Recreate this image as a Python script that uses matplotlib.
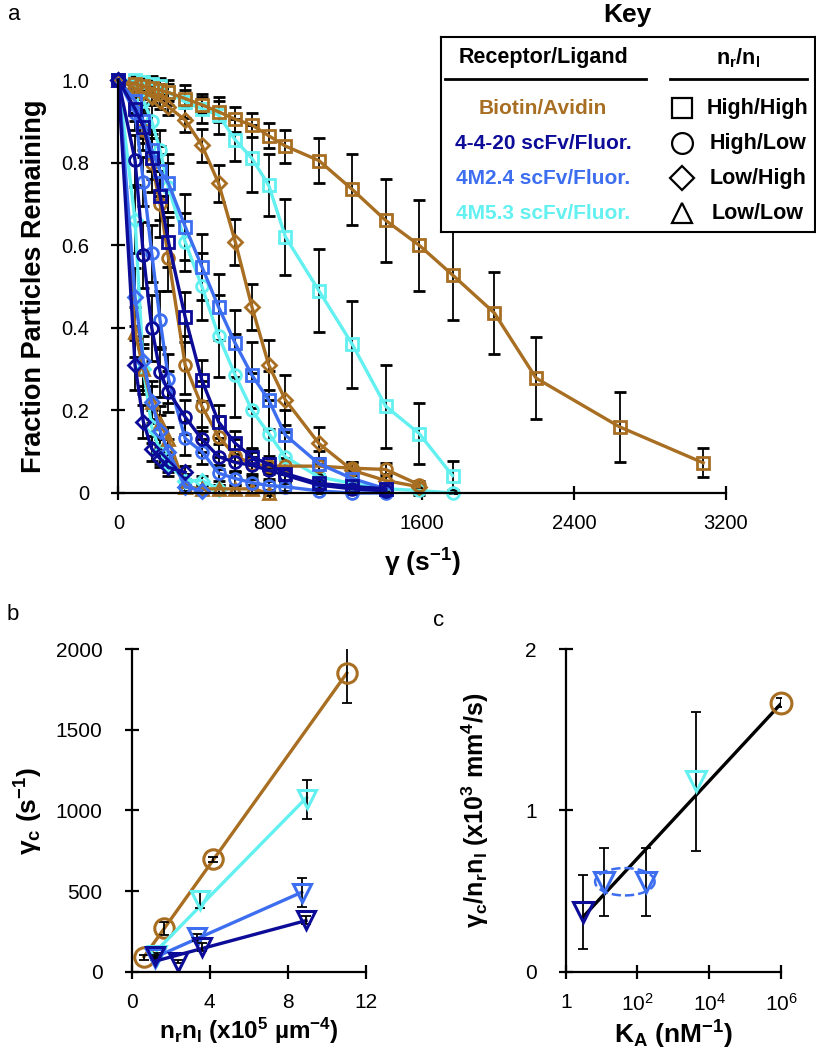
import numpy as np
import matplotlib
matplotlib.use("Agg")
import matplotlib.pyplot as plt

plt.rcParams['font.family'] = ['Liberation Sans', 'DejaVu Sans']
plt.rcParams['mathtext.default'] = 'regular'

BROWN = '#a86e22'
NAVY = '#0c0c98'
BLUE = '#3d6ef0'
CYAN = '#62f0f0'

# ---- panel a: shear rate steps (s^-1)
gam = [0, 88, 132, 176, 220, 264, 352, 440, 528, 616, 704, 792, 880,
       1056, 1232, 1408, 1584, 1760, 1980, 2200, 2640, 3080]

ba_hh = [1.0, 0.99, 0.985, 0.98, 0.975, 0.97, 0.955, 0.94, 0.923, 0.905, 0.891,
         0.865, 0.84, 0.805, 0.735, 0.66, 0.60, 0.528, 0.436, 0.278, 0.16, 0.073]
ba_hh_err = [0, 0.01, 0.01, 0.015, 0.015, 0.02, 0.02, 0.02, 0.025, 0.03, 0.03,
             0.03, 0.04, 0.055, 0.085, 0.10, 0.11, 0.11, 0.10, 0.10, 0.085, 0.035]
ba_hl = [1.0, 0.95, 0.88, 0.80, 0.70, 0.57, 0.31, 0.21, 0.136, 0.09, 0.07,
         0.065, 0.065, 0.065, 0.06, 0.057, 0.02]
ba_hl_err = [0, 0.03, 0.05, 0.07, 0.08, 0.08, 0.07, 0.06, 0.05, 0.04, 0.03,
             0.02, 0.02, 0.02, 0.015, 0.015, 0.01]
ba_lh = [1.0, 0.98, 0.97, 0.96, 0.95, 0.935, 0.903, 0.842, 0.75, 0.608, 0.45,
         0.31, 0.225, 0.12, 0.055, 0.03, 0.015]
ba_lh_err = [0, 0.01, 0.015, 0.015, 0.02, 0.02, 0.03, 0.04, 0.045, 0.055, 0.055,
             0.06, 0.06, 0.04, 0.02, 0.015, 0.01]
ba_ll = [1.0, 0.39, 0.30, 0.22, 0.17, 0.13, 0.015, 0.01, 0.01, 0.01, 0.01, 0.0]
ba_ll_err = [0, 0.06, 0.05, 0.04, 0.04, 0.03, 0.01, 0.01, 0.01, 0.01, 0.01, 0.005]

s420_hh = [1.0, 0.93, 0.887, 0.81, 0.72, 0.608, 0.426, 0.273, 0.172, 0.12, 0.087,
           0.07, 0.047, 0.023, 0.016, 0.01]
s420_hh_err = [0, 0.03, 0.04, 0.05, 0.06, 0.06, 0.06, 0.05, 0.04, 0.03, 0.02,
               0.02, 0.015, 0.01, 0.01, 0.005]
s420_hl = [1.0, 0.806, 0.576, 0.40, 0.293, 0.245, 0.184, 0.13, 0.088, 0.074, 0.067,
           0.055, 0.043, 0.019, 0.01, 0.005]
s420_hl_err = [0, 0.06, 0.08, 0.08, 0.06, 0.05, 0.04, 0.03, 0.03, 0.02, 0.02,
               0.02, 0.015, 0.01, 0.01, 0.005]
s420_lh = [1.0, 0.31, 0.172, 0.107, 0.083, 0.062, 0.05]
s420_lh_err = [0, 0.06, 0.04, 0.03, 0.02, 0.02, 0.015]

m24_hh = [1.0, 0.95, 0.90, 0.83, 0.78, 0.75, 0.645, 0.548, 0.45, 0.362, 0.285,
          0.225, 0.14, 0.071, 0.035, 0.01]
m24_hh_err = [0, 0.03, 0.04, 0.05, 0.06, 0.07, 0.08, 0.08, 0.08, 0.08, 0.08,
              0.07, 0.06, 0.03, 0.02, 0.01]
m24_hl = [1.0, 0.92, 0.754, 0.58, 0.418, 0.277, 0.132, 0.10, 0.048, 0.035, 0.025,
          0.018, 0.015, 0.005, 0.0, 0.0]
m24_hl_err = [0, 0.04, 0.06, 0.07, 0.07, 0.06, 0.04, 0.03, 0.02, 0.015, 0.01,
              0.01, 0.01, 0.005, 0.003, 0.003]
m24_lh = [1.0, 0.475, 0.32, 0.22, 0.15, 0.10, 0.015, 0.005]
m24_lh_err = [0, 0.07, 0.06, 0.05, 0.04, 0.03, 0.01, 0.005]

m53_hh = [1.0, 1.0, 0.995, 0.99, 0.985, 0.97, 0.947, 0.93, 0.915, 0.855, 0.81,
          0.745, 0.62, 0.49, 0.36, 0.21, 0.144, 0.042]
m53_hh_err = [0, 0.01, 0.01, 0.02, 0.02, 0.03, 0.04, 0.035, 0.045, 0.05, 0.08,
              0.075, 0.093, 0.10, 0.105, 0.10, 0.075, 0.035]
m53_hl = [1.0, 0.98, 0.95, 0.90, 0.83, 0.74, 0.608, 0.50, 0.38, 0.285, 0.20,
          0.144, 0.087, 0.039, 0.023, 0.01, 0.006, 0.0]
m53_hl_err = [0, 0.02, 0.03, 0.04, 0.05, 0.06, 0.07, 0.08, 0.1, 0.1, 0.09,
              0.08, 0.06, 0.03, 0.02, 0.01, 0.01, 0.0]
m53_lh = [1.0, 0.66, 0.30, 0.16, 0.10, 0.07, 0.03, 0.03, 0.01]
m53_lh_err = [0, 0.08, 0.06, 0.04, 0.03, 0.02, 0.015, 0.01, 0.01]

# ---- panel b
b_ba_x = [0.63, 1.66, 4.19, 11.03]
b_ba_y = [89, 269, 697, 1851]
b_ba_err = [15, 40, 15, 187]
b_m53_x = [1.28, 3.5, 8.97]
b_m53_y = [103, 445, 1069]
b_m53_err = [10, 47, 119]
b_m24_x = [1.2, 3.33, 8.72]
b_m24_y = [83, 213, 490]
b_m24_err = [10, 20, 90]
b_s420_x = [1.2, 2.39, 3.59, 8.94]
b_s420_y = [95, 62, 151, 321]
b_s420_err = [10, 10, 25, 25]

# ---- panel c
c_ka = [3.1, 11.7, 170, 4300, 1e6]
c_val = [0.372, 0.558, 0.558, 1.18, 1.67]
c_err = [0.23, 0.21, 0.21, 0.43, 0.03]
c_cols = [NAVY, BLUE, BLUE, CYAN, BROWN]
c_marks = ['v', 'v', 'v', 'v', 'o']


def style(ax, lsize):
    for s in ['top', 'right']:
        ax.spines[s].set_visible(False)
    for s in ['left', 'bottom']:
        ax.spines[s].set_linewidth(1.6)
    ax.tick_params(direction='inout', length=10, width=1.6, labelsize=lsize)
    ax.tick_params(axis='y', pad=16)
    ax.tick_params(axis='x', pad=10)


fig = plt.figure(figsize=(8.16, 10.5), dpi=100)

# panel a
ax = fig.add_axes([0.145, 0.5305, 0.7447, 0.3933])
series = [
    (m53_hh, m53_hh_err, CYAN, 's'), (m53_hl, m53_hl_err, CYAN, 'o'), (m53_lh, m53_lh_err, CYAN, 'D'),
    (ba_hh, ba_hh_err, BROWN, 's'), (ba_lh, ba_lh_err, BROWN, 'D'), (ba_hl, ba_hl_err, BROWN, 'o'),
    (ba_ll, ba_ll_err, BROWN, '^'),
    (m24_hh, m24_hh_err, BLUE, 's'), (m24_hl, m24_hl_err, BLUE, 'o'), (m24_lh, m24_lh_err, BLUE, 'D'),
    (s420_hh, s420_hh_err, NAVY, 's'), (s420_hl, s420_hl_err, NAVY, 'o'), (s420_lh, s420_lh_err, NAVY, 'D'),
]
for vals, err, col, mk in series:
    x = gam[:len(vals)]
    ax.errorbar(x, vals, yerr=err, color=col, lw=2.4, marker=mk, mfc='none', mec=col,
                ms=8.5 if mk != 'D' else 7, mew=2.0, ecolor='k', elinewidth=1.3,
                capsize=4, capthick=1.3, clip_on=False)
ax.set_xlim(0, 3200)
ax.set_ylim(0, 1.0)
ax.set_xticks([0, 800, 1600, 2400, 3200])
ax.set_yticks([0, 0.2, 0.4, 0.6, 0.8, 1.0])
ax.set_yticklabels(['0', '0.2', '0.4', '0.6', '0.8', '1.0'])
style(ax, 14.5)
ax.set_xlabel('γ (s$^{-1}$)', fontsize=19, fontweight='bold', labelpad=10)
ax.set_ylabel('Fraction Particles Remaining', fontsize=19.5, fontweight='bold', labelpad=10)

# key
kax = fig.add_axes([440.7 / 816, 1 - 231.7 / 1050, 374.3 / 816, 194.4 / 1050])
kax.set_xlim(440.7, 815)
kax.set_ylim(231.7, 37.3)
kax.set_xticks([])
kax.set_yticks([])
for s in kax.spines.values():
    s.set_linewidth(1.5)
kax.text(544, 58, 'Receptor/Ligand', ha='center', va='center', fontsize=15.5, fontweight='bold')
kax.text(738, 58, 'n$_r$/n$_l$', ha='center', va='center', fontsize=15.5, fontweight='bold')
kax.plot([445, 646], [79.3, 79.3], color='k', lw=2)
kax.plot([670, 807], [79.3, 79.3], color='k', lw=2)
key_left = ['Biotin/Avidin', '4-4-20 scFv/Fluor.', '4M2.4 scFv/Fluor.', '4M5.3 scFv/Fluor.']
key_cols = [BROWN, NAVY, BLUE, CYAN]
key_right = ['High/High', 'High/Low', 'Low/High', 'Low/Low']
key_marks = ['s', 'o', 'D', '^']
for i, yy in enumerate([108, 143, 178, 213]):
    kax.text(543, yy, key_left[i], ha='center', va='center', fontsize=15,
             fontweight='bold', color=key_cols[i])
    kax.plot(682, yy, marker=key_marks[i], ms=15 if key_marks[i] != 'D' else 12,
             mfc='none', mec='k', mew=1.6)
    kax.text(758, yy, key_right[i], ha='center', va='center', fontsize=15.5, fontweight='bold')
fig.text(627 / 816, 1 - 15 / 1050, 'Key', ha='center', va='center', fontsize=19, fontweight='bold')

# panel b
bx = fig.add_axes([131.7 / 816, 0.0746, 234 / 816, 0.307])
for xs, ys, es, col, mk, ms in [(b_ba_x, b_ba_y, b_ba_err, BROWN, 'o', 14),
                                (b_m53_x, b_m53_y, b_m53_err, CYAN, 'v', 13),
                                (b_m24_x, b_m24_y, b_m24_err, BLUE, 'v', 13),
                                (b_s420_x, b_s420_y, b_s420_err, NAVY, 'v', 13)]:
    k, c0 = np.polyfit(xs, ys, 1)
    xl = np.array([min(xs), max(xs)])
    bx.plot(xl, k * xl + c0, color=col, lw=2.4)
    bx.errorbar(xs, ys, yerr=es, fmt='none', ecolor='k', elinewidth=1.3, capsize=3.5, capthick=1.3)
    bx.plot(xs, ys, ls='none', marker=mk, ms=ms, mfc='none', mec=col, mew=2.2)
bx.set_xlim(0, 12)
bx.set_ylim(0, 2000)
bx.set_xticks([0, 4, 8, 12])
bx.set_yticks([0, 500, 1000, 1500, 2000])
style(bx, 15)
bx.set_xlabel('n$_r$n$_l$ (x10$^5$ µm$^{-4}$)', fontsize=17.5, fontweight='bold', labelpad=3)
bx.set_ylabel('γ$_c$ (s$^{-1}$)', fontsize=19, fontweight='bold', labelpad=8)

# panel c
cx = fig.add_axes([565.7 / 816, 0.0746, 215.3 / 816, 0.307])
cx.set_xscale('log')
lk = np.log10(c_ka)
k, c0 = np.polyfit(lk, c_val, 1)
xl = np.array([min(lk), max(lk)])
cx.plot(10 ** xl, k * xl + c0, color='k', lw=2.4)
cx.errorbar(c_ka, c_val, yerr=c_err, fmt='none', ecolor='k', elinewidth=1.3, capsize=3.5, capthick=1.3)
for xv, yv, col, mk in zip(c_ka, c_val, c_cols, c_marks):
    cx.plot(xv, yv, ls='none', marker=mk, ms=15, mfc='none', mec=col, mew=2.2, clip_on=False)
# dashed ellipse grouping the two 4M2.4 points
th = np.linspace(0, 2 * np.pi, 200)
lc = np.log10([c_ka[1], c_ka[2]]).mean()
cx.plot(10 ** (lc + 0.83 * np.cos(th)), c_val[1] + 0.085 * np.sin(th), ls='--', color=BLUE, lw=1.8)
cx.set_xlim(1, 1e6)
cx.set_ylim(0, 2)
cx.set_xticks([1, 1e2, 1e4, 1e6])
cx.set_xticklabels(['1', '10$^2$', '10$^4$', '10$^6$'])
cx.minorticks_off()
cx.set_yticks([0, 1, 2])
style(cx, 15)
cx.set_xlabel('K$_A$ (nM$^{-1}$)', fontsize=19, fontweight='bold', labelpad=3)
cx.set_ylabel('γ$_c$/n$_r$n$_l$ (x10$^3$ mm$^4$/s)', fontsize=18, fontweight='bold', labelpad=24)

fig.text(8 / 816, 1 - 15 / 1050, 'a', fontsize=16, va='center')
fig.text(7 / 816, 1 - 615 / 1050, 'b', fontsize=16, va='center')
fig.text(433 / 816, 1 - 620 / 1050, 'c', fontsize=16, va='center')

fig.savefig('out.png', dpi=100)
